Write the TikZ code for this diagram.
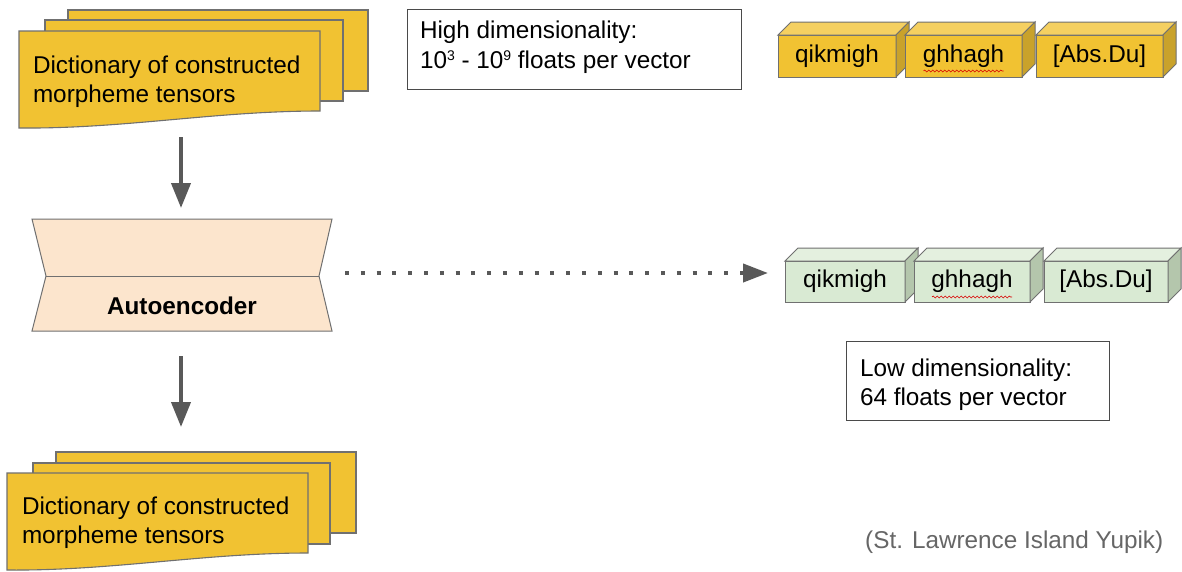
\documentclass[tikz,border=0pt]{standalone}
\usepackage{fontspec}
\setmainfont{Liberation Sans}
\usetikzlibrary{arrows.meta,decorations.pathmorphing,calc}
\definecolor{docyel}{HTML}{F1C232}
\definecolor{cubetopY}{HTML}{F5D061}
\definecolor{cubesideY}{HTML}{C9A22B}
\definecolor{cubeG}{HTML}{D9EAD3}
\definecolor{cubetopG}{HTML}{E4F0DF}
\definecolor{cubesideG}{HTML}{B4C6AC}
\definecolor{peach}{HTML}{FCE5CD}
\definecolor{edge}{HTML}{707070}
\definecolor{arrowgray}{HTML}{595959}
\definecolor{boxline}{HTML}{4A4A4A}
\definecolor{yupgray}{HTML}{666666}
\newcommand\mysup[1]{\raisebox{8pt}{\fontsize{14}{14}\selectfont #1}}
\tikzset{
  bigfont/.style={font=\fontsize{24.3}{28.5}\selectfont},
  sheet/.style={fill=docyel, draw=edge, line width=1.1pt, line join=miter},
  doctext/.style={anchor=north west, inner sep=0pt, outer sep=0pt, align=left, bigfont},
  frontY/.style={draw=edge, fill=docyel, line width=1pt, inner sep=0pt, outer sep=0pt, bigfont},
  topY/.style={draw=edge, fill=cubetopY, line width=1pt},
  sideY/.style={draw=edge, fill=cubesideY, line width=1pt},
  frontG/.style={draw=edge, fill=cubeG, line width=1pt, inner sep=0pt, outer sep=0pt, bigfont},
  topG/.style={draw=edge, fill=cubetopG, line width=1pt},
  sideG/.style={draw=edge, fill=cubesideG, line width=1pt},
  aeshape/.style={fill=peach, draw=edge, line width=1pt},
  flow/.style={draw=arrowgray, line width=4pt, -{Triangle[width=19pt,length=25pt]}},
  dotflow/.style={draw=arrowgray, line width=4pt, dash pattern=on 4pt off 11.8pt, -{Triangle[width=18pt,length=25pt]}},
  infobox/.style={draw=boxline, line width=1pt, inner sep=0pt, outer sep=0pt},
  squig/.style={draw=red!85!black, line width=0.6pt, decorate, decoration={snake, amplitude=1pt, segment length=4pt}},
}
\newcommand\mycube[7]{%
  \node[front#6, minimum width=#4pt, minimum height=#5pt] (#1) at (#2,#3) {#7};
  \filldraw[top#6] (#1.north west) -- ++(13,-13) -- ($(#1.north east)+(13,-13)$) -- (#1.north east) -- cycle;
  \filldraw[side#6] (#1.north east) -- ++(13,-13) -- ($(#1.south east)+(13,-13)$) -- (#1.south east) -- cycle;
}
\newcommand\myfrontsheet[5]{% L T R Bright Bleft
  \filldraw[sheet] (#1,#2) -- (#3,#2) -- (#3,#4)
    .. controls ({#3-0.35*(#3-#1)},{#4}) and ({#1+0.35*(#3-#1)},{#5+1}) .. (#1,#5) -- cycle;
}
\begin{document}
\begin{tikzpicture}[x=1pt,y=-1pt]
\useasboundingbox[fill=white] (0,0) rectangle (1182,571);

% top document stack
\filldraw[sheet] (68,10) rectangle (368,91);
\filldraw[sheet] (45,20) rectangle (343,101);
\myfrontsheet{19}{31}{320}{111}{128}
\node[doctext] (doc1) at (33,56) {Dictionary of constructed\\morpheme tensors};

% high dimensionality box
\node[infobox, minimum width=334pt, minimum height=80pt] (highbox) at (574,49) {};
\node[doctext, font=\fontsize{24.3}{30}\selectfont] (hightext) at (420,21) {High dimensionality:\\10\mysup{3} - 10\mysup{9} floats per vector};

% yellow cubes
\mycube{y1}{837}{56}{118}{42}{Y}{qikmigh}
\mycube{y2}{963.5}{56}{117}{42}{Y}{ghhagh}
\mycube{y3}{1099.5}{56}{127}{42}{Y}{[Abs.Du]}
\draw[squig] ($(y2.south)+(-40,-6)$) -- ($(y2.south)+(40,-6)$);

% arrow to autoencoder
\coordinate (d1out) at (181,137);
\coordinate (aein) at (181,208);
\draw[flow] (d1out) -- (aein);

% autoencoder
\filldraw[aeshape] (32,219) -- (332,219) -- (319,276) -- (332,331) -- (32,331) -- (46,276) -- cycle;
\draw[draw=edge, line width=1pt] (46,276) -- (319,276);
\node[font=\fontsize{24.3}{28.5}\selectfont\bfseries] (ae) at (182,306) {Autoencoder};

% dotted arrow
\coordinate (aeout) at (345,273);
\coordinate (latin) at (768,273);
\draw[dotflow] (aeout) -- (latin);

% green cubes
\mycube{g1}{845}{281.5}{120}{41}{G}{qikmigh}
\mycube{g2}{972}{281.5}{116}{41}{G}{ghhagh}
\mycube{g3}{1106}{281.5}{124}{41}{G}{[Abs.Du]}
\draw[squig] ($(g2.south)+(-40,-5)$) -- ($(g2.south)+(40,-5)$);

% low dimensionality box
\node[infobox, minimum width=263pt, minimum height=79pt] (lowbox) at (977.5,380.5) {};
\node[doctext, font=\fontsize{24.3}{29}\selectfont] (lowtext) at (860,359) {Low dimensionality:\\64 floats per vector};

% arrow to bottom stack
\coordinate (aebot) at (181,356);
\coordinate (d2in) at (181,427);
\draw[flow] (aebot) -- (d2in);

% bottom document stack
\filldraw[sheet] (56,452) rectangle (356,533);
\filldraw[sheet] (33,463) rectangle (330,544);
\myfrontsheet{7}{473}{308}{553}{570}
\node[doctext] (doc2) at (22,497) {Dictionary of constructed\\morpheme tensors};

% language note
\node[anchor=base west, inner sep=0pt, text=yupgray, bigfont] (lang) at (865,548) {(St. Lawrence Island Yupik)};
\end{tikzpicture}
\end{document}
